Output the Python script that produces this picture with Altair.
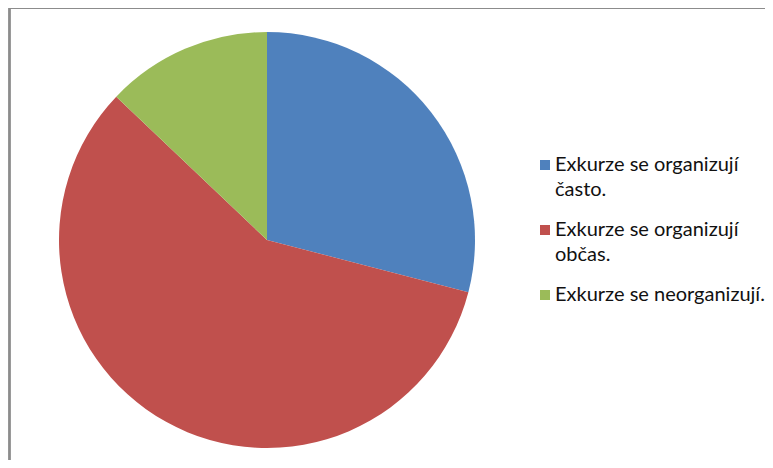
import altair as alt
import pandas as pd

categories = ["Exkurze se organizují často.", "Exkurze se organizují občas.", "Exkurze se neorganizují."]
label_lines = [["Exkurze se organizují", "často."], ["Exkurze se organizují", "občas."], ["Exkurze se neorganizují."]]
values = [9, 18, 4]
colors = ["#4F81BD", "#C0504D", "#9BBB59"]

df = pd.DataFrame({"cat": categories, "val": values, "order": [0, 1, 2]})

W, H = 757, 452

label_expr = " : ".join(
    [f"datum.label == '{c}' ? {l!r}" for c, l in zip(categories, label_lines)]
) + " : datum.label"

pie = alt.Chart(df).mark_arc(outerRadius=208, stroke=None).encode(
    theta=alt.Theta("val:Q", stack=True),
    order=alt.Order("order:Q"),
    x=alt.value(259),
    y=alt.value(232),
    color=alt.Color(
        "cat:N",
        sort=categories,
        scale=alt.Scale(domain=categories, range=colors),
        legend=alt.Legend(
            title=None,
            orient="none",
            legendX=527,
            legendY=147,
            symbolType="square",
            symbolSize=100,
            symbolStrokeWidth=0,
            labelFont="Lato",
            labelFontSize=20,
            labelColor="#111111",
            labelLimit=400,
            labelOffset=0,
            rowPadding=20,
            padding=0,
            labelExpr=label_expr,
        ),
    ),
)

frame_top = alt.Chart(df).mark_rule(color="#8c8c8c", strokeWidth=2).encode(
    x=alt.value(1), x2=alt.value(W + 20), y=alt.value(0)
)
frame_left = alt.Chart(df).mark_rule(color="#8c8c8c", strokeWidth=2).encode(
    x=alt.value(1.5), y=alt.value(0), y2=alt.value(H + 20)
)

chart = alt.layer(frame_top, frame_left, pie).properties(
    width=W, height=H, padding=0, autosize=alt.AutoSizeParams(type="none")
).configure_view(stroke=None).configure(
    background="white", style={"guide-label": {"lineHeight": 25}}
)

chart.save("out.html", embed_options={"renderer": "svg", "actions": False})
